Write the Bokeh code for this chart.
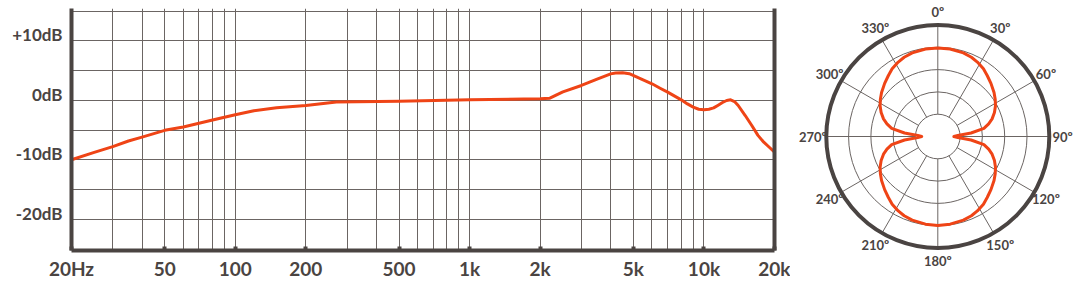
import math
from bokeh.plotting import figure
from bokeh.layouts import row, column
from bokeh.models import FixedTicker, LinearAxis, Range1d
from bokeh.core.properties import value
from bokeh.embed import file_html
from bokeh.resources import INLINE

# ---------------- data ----------------
freq_hz = [20, 25, 30, 35, 40, 50, 60, 80, 100, 120, 150, 200, 270, 500, 1000, 2000, 2200, 2500,
           3000, 3500, 4000, 4200, 4500, 4800, 5500, 6000, 6500, 7000, 7500, 8000, 8500, 9000,
           9500, 10000, 10500, 11000, 11500, 12000, 12500, 13000, 13500, 14000, 15000, 16000,
           17000, 18000, 19000, 20000]
response_db = [-10.0, -8.75, -7.8, -6.85, -6.2, -5.05, -4.5, -3.3, -2.44, -1.77, -1.26, -0.87,
               -0.3, -0.15, 0.08, 0.25, 0.36, 1.43, 2.5, 3.57, 4.45, 4.58, 4.65, 4.48, 3.45,
               2.78, 2.04, 1.37, 0.7, 0.08, -0.6, -1.15, -1.5, -1.6, -1.5, -1.27, -0.82, -0.37,
               -0.03, 0.08, -0.2, -0.87, -2.56, -4.24, -5.9, -7.05, -7.9, -8.7]

x_tick_values = [20, 50, 100, 200, 500, 1000, 2000, 5000, 10000, 20000]
x_tick_labels = ["20Hz", "50", "100", "200", "500", "1k", "2k", "5k", "10k", "20k"]
x_grid_values = [20, 30, 40, 50, 60, 70, 80, 90, 100, 200, 300, 400, 500, 600, 700, 800, 900,
                 1000, 2000, 3000, 4000, 5000, 6000, 7000, 8000, 9000, 10000, 20000]
y_tick_values = [10, 0, -10, -20]
y_tick_labels = ["+10dB", "0dB", "-10dB", "-20dB"]
y_grid_values = [-20, -15, -10, -5, 0, 5, 10, 15]

polar_angle_deg = [0, 8, 17, 23, 28, 34, 39, 45, 52, 57, 62, 67, 72, 76, 80, 84, 87, 90,
                   93, 96, 100, 104, 108, 113, 118, 123, 128, 135, 141, 146, 152, 157, 163, 172,
                   180, 188, 197, 203, 208, 214, 219, 225, 232, 237, 242, 247, 252, 256, 260,
                   264, 267, 270, 273, 276, 280, 284, 288, 293, 298, 303, 308, 315, 321, 326,
                   332, 337, 343, 352, 360]
polar_radius = [3.97, 3.96, 3.92, 3.86, 3.78, 3.66, 3.52, 3.37, 3.2, 3.07, 2.93, 2.76, 2.56,
                2.35, 2.1, 1.5, 0.9, 0.72, 0.9, 1.5, 2.1, 2.35, 2.56, 2.76, 2.93, 3.07, 3.2,
                3.37, 3.52, 3.66, 3.78, 3.86, 3.92, 3.97, 3.99, 3.97, 3.92, 3.86, 3.78, 3.66,
                3.52, 3.37, 3.2, 3.07, 2.93, 2.76, 2.56, 2.35, 2.1, 1.5, 0.9, 0.72, 0.9, 1.5,
                2.1, 2.35, 2.56, 2.76, 2.93, 3.07, 3.2, 3.37, 3.52, 3.66, 3.78, 3.86, 3.92,
                3.96, 3.97]
ring_radii = [1, 2, 3, 4]
outer_radius = 5
spoke_angles = [0, 30, 60, 90, 120, 150, 180, 210, 240, 270, 300, 330]
spoke_labels = ["0º", "30º", "60º", "90º", "120º", "150º", "180º", "210º", "240º", "270º", "300º", "330º"]

# ---------------- style ----------------
DARK = "#4a4442"
GRID = "#6b6563"
CURVE = "#ef4416"
FONT = "Lato"
DB_LO, DB_HI = -25.27, 15.45
LABEL_LIFT_DB = 1.0   # dB labels sit just above their grid line

# ---------------- frequency response ----------------
p = figure(width=790, height=283, x_axis_type="log", x_range=(20, 20000),
           y_range=(DB_LO, DB_HI), output_backend="svg", toolbar_location=None, title=None,
           min_border_left=71, min_border_right=16, min_border_top=8, min_border_bottom=33)
p.outline_line_color = None
p.background_fill_color = "white"
p.extra_y_ranges = {"lab": Range1d(DB_LO - LABEL_LIFT_DB, DB_HI - LABEL_LIFT_DB)}

p.xgrid.ticker = FixedTicker(ticks=x_grid_values)
p.ygrid.ticker = FixedTicker(ticks=y_grid_values)
for g in (p.xgrid, p.ygrid):
    g.grid_line_color = GRID
    g.grid_line_width = 1

xa = p.xaxis[0]
xa.ticker = FixedTicker(ticks=x_tick_values)
xa.major_label_overrides = {float(v): t for v, t in zip(x_tick_values, x_tick_labels)}
xa.axis_line_width = 4
xa.axis_line_color = DARK
xa.major_tick_in = 4
xa.major_tick_out = 0
xa.major_tick_line_width = 4
xa.major_tick_line_color = DARK
xa.minor_tick_line_color = None
xa.major_label_text_font = FONT
xa.major_label_text_font_style = "bold"
xa.major_label_text_font_size = "19px"
xa.major_label_text_color = DARK
xa.major_label_standoff = 6

ya = p.yaxis[0]
ya.y_range_name = "lab"
ya.ticker = FixedTicker(ticks=y_tick_values)
ya.major_label_overrides = {float(v): t for v, t in zip(y_tick_values, y_tick_labels)}
ya.axis_line_width = 4
ya.axis_line_color = DARK
ya.major_tick_line_color = None
ya.major_tick_in = 0
ya.major_tick_out = 0
ya.minor_tick_line_color = None
ya.minor_tick_out = 0
ya.major_label_text_font = FONT
ya.major_label_text_font_style = "bold"
ya.major_label_text_font_size = "17px"
ya.major_label_text_color = DARK
ya.major_label_standoff = 9

ra = LinearAxis(ticker=FixedTicker(ticks=[]), axis_line_width=4, axis_line_color=DARK,
                major_tick_line_color=None, minor_tick_line_color=None,
                major_label_text_font_size="0px")
p.add_layout(ra, "right")

p.line(freq_hz, response_db, line_color=CURVE, line_width=3, line_join="round", line_cap="round")

# ---------------- polar pattern ----------------
q = figure(width=290, height=283, x_range=Range1d(-6.605, 6.399), y_range=Range1d(-6.592, 6.099),
           output_backend="svg", toolbar_location=None, x_axis_location=None,
           y_axis_location=None, title=None, min_border=0)
q.outline_line_color = None
q.grid.visible = False

q.circle(x=[0] * len(ring_radii), y=[0] * len(ring_radii), radius=ring_radii,
         fill_color=None, line_color=GRID, line_width=1)

sx0 = [1 * math.sin(math.radians(a)) for a in spoke_angles]
sy0 = [1 * math.cos(math.radians(a)) for a in spoke_angles]
sx1 = [outer_radius * math.sin(math.radians(a)) for a in spoke_angles]
sy1 = [outer_radius * math.cos(math.radians(a)) for a in spoke_angles]
q.segment(sx0, sy0, sx1, sy1, line_color=GRID, line_width=1)

q.circle(x=[0], y=[0], radius=[outer_radius], fill_color=None, line_color=DARK, line_width=4)

px = [r * math.sin(math.radians(a)) for a, r in zip(polar_angle_deg, polar_radius)]
py = [r * math.cos(math.radians(a)) for a, r in zip(polar_angle_deg, polar_radius)]
q.line(px, py, line_color=CURVE, line_width=3, line_join="round")

label_r = 5.6
lx = [label_r * math.sin(math.radians(a)) for a in spoke_angles]
ly = [label_r * math.cos(math.radians(a)) for a in spoke_angles]
q.text(x=lx, y=ly, text=spoke_labels, text_font=value(FONT), text_font_style="bold",
       text_font_size="13px", text_align="center", text_baseline="middle", text_color=DARK)

layout = row(column(p), column(q))
open("out.html", "w").write(file_html(layout, INLINE))
